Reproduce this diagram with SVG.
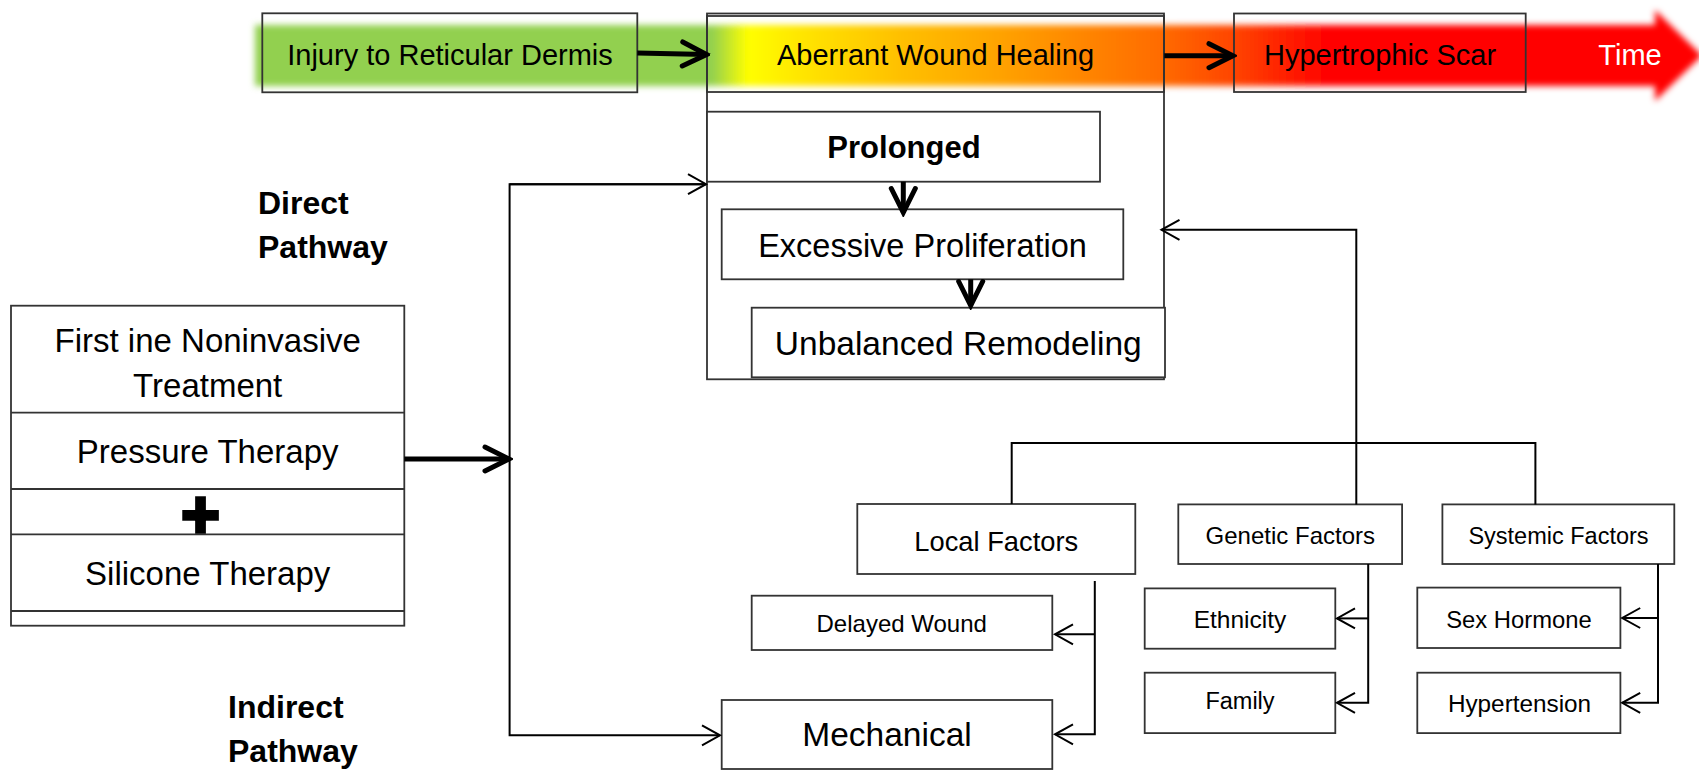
<svg xmlns="http://www.w3.org/2000/svg" width="1699" height="770" viewBox="0 0 1699 770">
<style>
  .box{fill:none;stroke:#333;stroke-width:1.8}
  .wbox{fill:#fff;stroke:#333;stroke-width:1.8}
  .t{font-family:"Liberation Sans",Arial,sans-serif;fill:#000;text-anchor:middle}
  .b{font-weight:bold}
  .lab{font-family:"Liberation Sans",Arial,sans-serif;font-weight:bold;font-size:32px;fill:#000}
  .thin{fill:none;stroke:#000;stroke-width:2}
  .thick{fill:none;stroke:#000;stroke-width:5}
</style>
<defs>
  <linearGradient id="timeGrad" gradientUnits="userSpaceOnUse" x1="255" y1="0" x2="1700" y2="0">
    <stop offset="0" stop-color="#92D050"/>
    <stop offset="0.316" stop-color="#92D050"/>
    <stop offset="0.341" stop-color="#FFFF00"/>
    <stop offset="0.377" stop-color="#FFE600"/>
    <stop offset="0.446" stop-color="#FFC000"/>
    <stop offset="0.516" stop-color="#FFA200"/>
    <stop offset="0.585" stop-color="#FF8000"/>
    <stop offset="0.629" stop-color="#FF6A00"/>
    <stop offset="0.677" stop-color="#FF4500"/>
    <stop offset="0.744" stop-color="#FF0000"/>
    <stop offset="1" stop-color="#FF0000"/>
  </linearGradient>
  <filter id="soft" x="-5%" y="-40%" width="110%" height="180%">
    <feGaussianBlur stdDeviation="3"/>
  </filter>
  <marker id="mThin" markerUnits="userSpaceOnUse" viewBox="0 0 24 24" markerWidth="24" markerHeight="24" refX="21" refY="12" orient="auto">
    <path d="M3,2 L21,12 L3,22" fill="none" stroke="#000" stroke-width="2"/>
  </marker>
  <marker id="mThick" markerUnits="userSpaceOnUse" viewBox="0 0 34 34" markerWidth="34" markerHeight="34" refX="30" refY="17" orient="auto">
    <path d="M6,5 L30,17 L6,29" fill="none" stroke="#000" stroke-width="5" stroke-linecap="round"/>
  </marker>
</defs>
<rect width="1699" height="770" fill="#fff"/>

<!-- time band -->
<g id="timeline">
  <path d="M255,25 L1655,25 L1655,10 L1702,55.5 L1655,101 L1655,86 L255,86 Z" fill="url(#timeGrad)" filter="url(#soft)"/>
  <text class="t" x="1630" y="65" font-size="29" style="fill:#fff">Time</text>
</g>

<g id="injury">
  <rect class="box" x="262.3" y="13.3" width="375" height="79"/>
  <text class="t" x="450" y="65" font-size="29">Injury to Reticular Dermis</text>
</g>

<g id="aberrant-container">
  <rect class="box" x="707" y="13.5" width="457" height="365.8"/>
</g>
<g id="aberrant">
  <rect class="box" x="707" y="16" width="457" height="76"/>
  <text class="t" x="935.5" y="65" font-size="29">Aberrant Wound Healing</text>
</g>

<g id="hypertrophic">
  <rect class="box" x="1234" y="13.5" width="291.7" height="78.5"/>
  <text class="t" x="1380" y="65" font-size="29">Hypertrophic Scar</text>
</g>

<g id="prolonged">
  <rect class="wbox" x="707" y="111.7" width="393" height="70"/>
  <text class="t b" x="904" y="158.3" font-size="31">Prolonged</text>
</g>
<g id="excessive">
  <rect class="wbox" x="721.7" y="209.3" width="401.6" height="70"/>
  <text class="t" x="922.5" y="256.7" font-size="32.5">Excessive Proliferation</text>
</g>
<g id="unbalanced">
  <rect class="wbox" x="751.7" y="307.7" width="413.3" height="69.6"/>
  <text class="t" x="958.3" y="355" font-size="33.5">Unbalanced Remodeling</text>
</g>

<g id="treatment">
  <rect class="wbox" x="11" y="305.7" width="393.3" height="320"/>
  <line class="box" x1="11" y1="412.7" x2="404.3" y2="412.7"/>
  <line class="box" x1="11" y1="489" x2="404.3" y2="489"/>
  <line class="box" x1="11" y1="534.3" x2="404.3" y2="534.3"/>
  <line class="box" x1="11" y1="611" x2="404.3" y2="611"/>
  <text class="t" x="207.7" y="351.7" font-size="33">First ine Noninvasive</text>
  <text class="t" x="207.7" y="396.7" font-size="33">Treatment</text>
  <text class="t" x="207.7" y="463.3" font-size="33">Pressure Therapy</text>
  <text class="t b" x="200.5" y="537" font-size="66" style="stroke:#000;stroke-width:3.5">+</text>
  <text class="t" x="207.7" y="585" font-size="33">Silicone Therapy</text>
</g>

<g id="labels">
  <text class="lab" x="258" y="214">Direct</text>
  <text class="lab" x="258" y="258">Pathway</text>
  <text class="lab" x="228" y="718">Indirect</text>
  <text class="lab" x="228" y="762">Pathway</text>
</g>

<g id="local">
  <rect class="wbox" x="857.3" y="504" width="278" height="70"/>
  <text class="t" x="996.3" y="550.7" font-size="27.3">Local Factors</text>
</g>
<g id="genetic">
  <rect class="wbox" x="1178.3" y="504.4" width="223.8" height="59.6"/>
  <text class="t" x="1290.3" y="543.6" font-size="24">Genetic Factors</text>
</g>
<g id="systemic">
  <rect class="wbox" x="1442.4" y="504.4" width="231.9" height="59.6"/>
  <text class="t" x="1558.5" y="543.6" font-size="23.5">Systemic Factors</text>
</g>
<g id="delayed">
  <rect class="wbox" x="751.7" y="595.7" width="300.6" height="54.3"/>
  <text class="t" x="901.7" y="632.3" font-size="24">Delayed Wound</text>
</g>
<g id="mechanical">
  <rect class="wbox" x="721.7" y="700" width="330.6" height="69"/>
  <text class="t" x="887" y="745.7" font-size="33.5">Mechanical</text>
</g>
<g id="ethnicity">
  <rect class="wbox" x="1144.7" y="588.4" width="190.6" height="60.3"/>
  <text class="t" x="1240" y="628.4" font-size="24.5">Ethnicity</text>
</g>
<g id="family">
  <rect class="wbox" x="1144.7" y="672.7" width="190.6" height="60.4"/>
  <text class="t" x="1240" y="709.1" font-size="23.5">Family</text>
</g>
<g id="sexhormone">
  <rect class="wbox" x="1417.3" y="587.6" width="203.1" height="60.4"/>
  <text class="t" x="1519" y="628.4" font-size="23.8">Sex Hormone</text>
</g>
<g id="hypertension">
  <rect class="wbox" x="1417.3" y="672.7" width="203.1" height="60.4"/>
  <text class="t" x="1519.5" y="712" font-size="24.3">Hypertension</text>
</g>

<g id="connectors">
  <!-- thick timeline arrows -->
  <line class="thick" x1="637.3" y1="53" x2="706.5" y2="54.5" marker-end="url(#mThick)"/>
  <line class="thick" x1="1164.3" y1="55.7" x2="1233" y2="55.7" marker-end="url(#mThick)"/>
  <!-- cascade -->
  <line class="thick" x1="903.3" y1="181.7" x2="903.3" y2="212.5" marker-end="url(#mThick)"/>
  <line class="thick" x1="970.7" y1="279.3" x2="970.7" y2="305.5" marker-end="url(#mThick)"/>
  <!-- treatment to branch -->
  <line class="thick" x1="404.3" y1="459" x2="509" y2="459" marker-end="url(#mThick)"/>
  <!-- branch -->
  <polyline class="thin" points="705.5,184.2 509.6,184.2 509.6,735.3 720,735.3" marker-end="url(#mThin)"/>
  <line class="thin" x1="509.6" y1="184.2" x2="706" y2="184.2" marker-end="url(#mThin)"/>
  <!-- factors to aberrant -->
  <polyline class="thin" points="1356.3,504.4 1356.3,229.8 1161.5,229.8" marker-end="url(#mThin)"/>
  <polyline class="thin" points="1011.7,504 1011.7,442.9 1535.4,442.9 1535.4,504.4"/>
  <!-- local -->
  <polyline class="thin" points="1094.8,581 1094.8,734.3 1055,734.3" marker-end="url(#mThin)"/>
  <line class="thin" x1="1094.8" y1="634.3" x2="1055" y2="634.3" marker-end="url(#mThin)"/>
  <!-- genetic -->
  <polyline class="thin" points="1368.2,564 1368.2,702.8 1337,702.8" marker-end="url(#mThin)"/>
  <line class="thin" x1="1368.2" y1="618.4" x2="1337" y2="618.4" marker-end="url(#mThin)"/>
  <!-- systemic -->
  <polyline class="thin" points="1658,564 1658,702.8 1622.2,702.8" marker-end="url(#mThin)"/>
  <line class="thin" x1="1658" y1="618" x2="1622.2" y2="618" marker-end="url(#mThin)"/>
</g>
</svg>
